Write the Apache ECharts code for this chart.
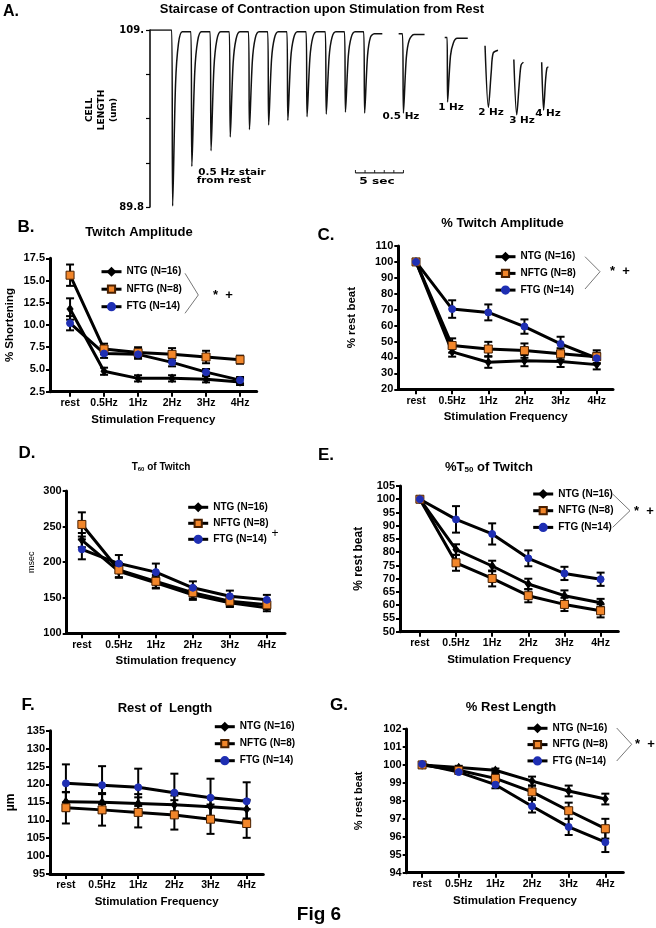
<!DOCTYPE html>
<html><head><meta charset="utf-8">
<script src="https://cdn.jsdelivr.net/npm/echarts@6/dist/echarts.min.js"></script>
<style>html,body{margin:0;padding:0;background:#fff}#c{width:656px;height:928px}</style>
</head><body><div id="c"></div>
<script>
// ---------- DATA ----------
const categories = ['rest', '0.5Hz', '1Hz', '2Hz', '3Hz', '4Hz'];
const groupNames = ['NTG (N=16)', 'NFTG (N=8)', 'FTG (N=14)'];

// Panel A: cell length trace [time (s), length (um)]
const stairTrace = [
  [0.0,109.0],[2.26,109.0],[2.36,89.9],[2.66,103.1],[2.96,107.5],[3.36,108.8],[4.26,108.8],
  [4.36,94.2],[4.66,104.4],[4.96,107.8],[5.36,108.8],[6.26,108.8],
  [6.36,95.9],[6.66,104.9],[6.96,107.9],[7.36,108.8],[8.26,108.8],
  [8.36,97.4],[8.66,105.4],[8.96,108.0],[9.36,108.8],[10.26,108.8],
  [10.36,98.2],[10.66,105.6],[10.96,108.1],[11.36,108.8],[12.26,108.8],
  [12.36,98.7],[12.66,105.8],[12.96,108.1],[13.36,108.8],[14.26,108.8],
  [14.36,99.2],[14.66,105.9],[14.96,108.1],[15.36,108.8],[16.26,108.8],
  [16.36,99.6],[16.66,106.0],[16.96,108.2],[17.36,108.8],[18.26,108.8],
  [18.36,99.9],[18.66,106.1],[18.96,108.2],[19.36,108.8],[20.26,108.8],
  [20.36,100.1],[20.66,106.2],[20.96,108.2],[21.36,108.8],[22.26,108.8],
  [22.36,100.0],[22.66,106.2],[22.96,108.2],[23.36,108.6],[24.2,108.6]
];
const trace05Hz = [[25.9,108.6],[26.3,108.6],[26.4,100.0],[26.7,106.0],[27.0,107.9],[27.5,108.5],[28.6,108.5]];
const trace1Hz = [[30.7,108.2],[30.95,108.2],[31.0,101.2],[31.3,106.2],[31.6,107.6],[32.0,108.1],[33.1,108.1]];
const trace2Hz = [[34.9,107.3],[35.25,100.6],[35.55,104.5],[35.75,106.5],[36.25,106.8]];
const trace3Hz = [[37.9,105.8],[38.2,99.8],[38.45,103.0],[38.65,105.2],[38.9,105.5]];
const trace4Hz = [[40.8,105.5],[41.0,100.3],[41.2,103.5],[41.35,104.9],[41.5,105.0]];
const lengthTicks = [89.8, 94.6, 99.4, 104.2, 109];
const scaleBarStart = 21.4, scaleBarSeconds = 5, scaleBarLevel = 93.5;

// Panel B: Twitch amplitude (% shortening)
const ampNTG = [11.8, 4.8, 4.0, 4.0, 3.9, 3.6];
const ampNTGErr = [1.2, 0.4, 0.35, 0.35, 0.35, 0.35];
const ampNFTG = [15.6, 7.3, 6.9, 6.7, 6.4, 6.1];
const ampNFTGErr = [1.2, 0.6, 0.6, 0.7, 0.7, 0.45];
const ampFTG = [10.2, 6.8, 6.7, 5.8, 4.7, 3.8];
const ampFTGErr = [0.8, 0.5, 0.5, 0.45, 0.35, 0.35];

// Panel C: % twitch amplitude (% rest beat)
const pctNTG = [100, 43.5, 37, 38, 37.5, 35.5];
const pctNTGErr = [0, 3, 3.5, 3.5, 3.5, 3];
const pctNFTG = [100, 47.5, 45.3, 44.3, 42.3, 40.5];
const pctNFTGErr = [0, 4.5, 4.5, 4.5, 3.5, 4];
const pctFTG = [100, 70.4, 68.3, 59.4, 48.5, 39.5];
const pctFTGErr = [0, 5.5, 5, 4.5, 4.5, 3.5];

// Panel D: T60 of twitch (msec)
const t60NTG = [231, 187, 171, 154, 143, 136];
const t60NTGErr = [10, 9, 8, 7, 6, 5];
const t60NFTG = [253, 189, 173, 157, 145, 140];
const t60NFTGErr = [17, 10, 9, 8, 7, 6];
const t60FTG = [218, 198, 186, 164, 152, 147];
const t60FTGErr = [14, 12, 12, 9, 8, 7];

// Panel E: %T50 of twitch (% rest beat)
const t50NTG = [100, 81, 74.8, 68, 63.6, 60.9];
const t50NTGErr = [0, 2, 2, 2, 2, 1.5];
const t50NFTG = [100, 76, 70.1, 63.6, 60.3, 57.9];
const t50NFTGErr = [0, 3, 3, 2.5, 2.5, 2.5];
const t50FTG = [100, 92.4, 86.9, 77.7, 72.0, 69.8];
const t50FTGErr = [0, 5, 4, 3, 2.5, 2.5];

// Panel F: rest length (um)
const lenNTG = [115.2, 115.0, 114.7, 114.3, 113.8, 113.1];
const lenNTGErr = [2.6, 2.6, 2.6, 2.6, 2.6, 2.6];
const lenNFTG = [113.5, 112.9, 112.2, 111.5, 110.3, 109.1];
const lenNFTGErr = [4.4, 4.4, 4.2, 4.1, 4.1, 4.0];
const lenFTG = [120.3, 119.8, 119.2, 117.7, 116.3, 115.3];
const lenFTGErr = [5.3, 5.3, 5.2, 5.3, 5.3, 5.3];

// Panel G: % rest length (% rest beat)
const rlNTG = [100, 99.85, 99.7, 99.1, 98.55, 98.1];
const rlNTGErr = [0, 0.1, 0.1, 0.25, 0.3, 0.3];
const rlNFTG = [100, 99.7, 99.25, 98.5, 97.45, 96.45];
const rlNFTGErr = [0, 0.1, 0.25, 0.35, 0.45, 0.55];
const rlFTG = [100.05, 99.6, 98.9, 97.7, 96.55, 95.7];
const rlFTGErr = [0, 0.1, 0.2, 0.35, 0.45, 0.55];

// ---------- STYLE / LAYOUT ----------
const FONT = "'Liberation Sans', Arial, Helvetica, sans-serif";
const NARROW = "'Liberation Sans Narrow', 'Arial Narrow', 'Liberation Sans', Arial, sans-serif";
const WIDE = "'DejaVu Sans', Verdana, sans-serif";
const markerStyles = [
  {symbol: 'diamond', size: [6, 8], color: '#000000', border: '#000000'},
  {symbol: 'rect', size: 8, color: '#f2862a', border: '#4a2000'},
  {symbol: 'circle', size: 7, color: '#1f2fb3', border: '#1f2fb3'}
];

const panels = [
  {grid: {left: 50, top: 258.3, width: 206.7, height: 133.4}, x: [-0.59, 5.49], y: [2.5, 17.5, 2.5],
   fmt: v => v.toFixed(1), yName: '% Shortening', yGap: 34, yNameSize: 11.5, yNameWeight: 'bold',
   xName: 'Stimulation Frequency', vals: [ampNTG, ampNFTG, ampFTG], errs: [ampNTGErr, ampNFTGErr, ampFTGErr],
   legend: {left: 100, top: 265.7, gap: 5.5}},
  {grid: {left: 398.3, top: 246, width: 214.7, height: 143.3}, x: [-0.49, 5.45], y: [20, 110, 10],
   fmt: v => String(v), yName: '% rest beat', yGap: 40, yNameSize: 11.5, yNameWeight: 'bold',
   xName: 'Stimulation Frequency', vals: [pctNTG, pctNFTG, pctFTG], errs: [pctNTGErr, pctNFTGErr, pctFTGErr],
   legend: {left: 494, top: 250.7, gap: 4.7}},
  {grid: {left: 66.7, top: 491, width: 218.3, height: 142.3}, x: [-0.41, 5.49], y: [100, 300, 50],
   fmt: v => String(v), yName: 'msec', yGap: 31, yNameSize: 9, yNameWeight: 'normal',
   xName: 'Stimulation frequency', vals: [t60NTG, t60NFTG, t60FTG], errs: [t60NTGErr, t60NFTGErr, t60FTGErr],
   legend: {left: 186.7, top: 501.3, gap: 4}},
  {grid: {left: 400, top: 486, width: 218.3, height: 145.7}, x: [-0.55, 5.49], y: [50, 105, 5],
   fmt: v => String(v), yName: '% rest beat', yGap: 35, yNameSize: 12, yNameWeight: 'bold',
   xName: 'Stimulation Frequency', vals: [t50NTG, t50NFTG, t50FTG], errs: [t50NTGErr, t50NFTGErr, t50FTGErr],
   legend: {left: 531.7, top: 488, gap: 4.7}},
  {grid: {left: 50, top: 730.7, width: 213.3, height: 143.3}, x: [-0.44, 5.46], y: [95, 135, 5],
   fmt: v => String(v), yName: 'µm', yGap: 33, yNameSize: 12, yNameWeight: 'bold',
   xName: 'Stimulation Frequency', vals: [lenNTG, lenNFTG, lenFTG], errs: [lenNTGErr, lenNFTGErr, lenFTGErr],
   legend: {left: 213.3, top: 720.7, gap: 5}},
  {grid: {left: 406.7, top: 729, width: 216.6, height: 143.7}, x: [-0.42, 5.49], y: [94, 102, 1],
   fmt: v => String(v), yName: '% rest beat', yGap: 42, yNameSize: 11, yNameWeight: 'bold',
   xName: 'Stimulation Frequency', vals: [rlNTG, rlNFTG, rlFTG], errs: [rlNTGErr, rlNFTGErr, rlFTGErr],
   legend: {left: 526, top: 722.3, gap: 4.3}}
];

function errRender(params, api) {
  const x = api.value(0), v = api.value(1), e = api.value(2);
  if (!e) return {type: 'group', children: []};
  const p1 = api.coord([x, v + e]), p2 = api.coord([x, v - e]);
  const hw = 4, st = {stroke: '#000', lineWidth: 2};
  return {type: 'group', children: [
    {type: 'line', shape: {x1: p1[0], y1: p1[1], x2: p2[0], y2: p2[1]}, style: st},
    {type: 'line', shape: {x1: p1[0] - hw, y1: p1[1], x2: p1[0] + hw, y2: p1[1]}, style: st},
    {type: 'line', shape: {x1: p2[0] - hw, y1: p2[1], x2: p2[0] + hw, y2: p2[1]}, style: st}
  ]};
}

const grids = [], xAxes = [], yAxes = [], series = [], legends = [];

// Panel A grid (index 0)
grids.push({left: 150, top: 30, width: 43 * 9.6, height: 177});
xAxes.push({type: 'value', gridIndex: 0, min: 0, max: 43, show: false});
yAxes.push({type: 'value', gridIndex: 0, min: 89.8, max: 109,
  axisLine: {show: true, onZero: false, lineStyle: {color: '#000', width: 1.5}},
  axisTick: {show: true, length: 4, customValues: lengthTicks, lineStyle: {color: '#000', width: 1.2}},
  axisLabel: {show: true, customValues: [89.8, 109], margin: 6, color: '#000', fontFamily: WIDE, fontWeight: 'bold', fontSize: 10,
    formatter: v => (Math.abs(v - 109) < 0.01 ? '109.' : '89.8')},
  splitLine: {show: false}});
[stairTrace, trace05Hz, trace1Hz, trace2Hz, trace3Hz, trace4Hz].forEach(tr => {
  series.push({type: 'line', xAxisIndex: 0, yAxisIndex: 0, data: tr, showSymbol: false, symbol: 'none',
    smooth: 0.3, lineStyle: {color: '#111', width: 1.5}, silent: true, animation: false});
});
// 5 sec scale bar
const barPts = [];
for (let s = 0; s <= scaleBarSeconds; s++) barPts.push([scaleBarStart + s, scaleBarLevel]);
series.push({type: 'line', xAxisIndex: 0, yAxisIndex: 0, data: barPts, symbol: 'rect', symbolSize: [1, 3],
  symbolOffset: [0, -1.5], itemStyle: {color: '#222'}, lineStyle: {color: '#222', width: 1.2}, animation: false, silent: true});

panels.forEach((p, k) => {
  const gi = k + 1;
  grids.push(p.grid);
  xAxes.push({type: 'value', gridIndex: gi, min: p.x[0], max: p.x[1],
    name: p.xName, nameLocation: 'middle', nameGap: 22,
    nameTextStyle: {fontFamily: FONT, fontWeight: 'bold', fontSize: 11.5, color: '#000'},
    axisLine: {show: true, onZero: false, lineStyle: {color: '#000', width: 3}},
    axisTick: {show: true, length: 5, customValues: [0, 1, 2, 3, 4, 5], lineStyle: {color: '#000', width: 2}},
    axisLabel: {show: true, customValues: [0, 1, 2, 3, 4, 5], formatter: v => categories[Math.round(v)],
      margin: 6, color: '#000', fontFamily: FONT, fontWeight: 'bold', fontSize: 10.5},
    splitLine: {show: false}});
  yAxes.push({type: 'value', gridIndex: gi, min: p.y[0], max: p.y[1], interval: p.y[2],
    name: p.yName, nameLocation: 'middle', nameGap: p.yGap,
    nameTextStyle: {fontFamily: FONT, fontWeight: p.yNameWeight, fontSize: p.yNameSize, color: '#000'},
    axisLine: {show: true, onZero: false, lineStyle: {color: '#000', width: 3}},
    axisTick: {show: true, length: 4, lineStyle: {color: '#000', width: 2}},
    axisLabel: {show: true, margin: 5, color: '#000', fontFamily: FONT, fontWeight: 'bold', fontSize: 11, formatter: p.fmt},
    splitLine: {show: false}});
  p.vals.forEach((vals, j) => {
    series.push({type: 'custom', name: 'err' + j, xAxisIndex: gi, yAxisIndex: gi, renderItem: errRender,
      data: vals.map((v, i) => [i, v, p.errs[j][i]]), encode: {x: 0, y: 1}, z: 2, silent: true, animation: false});
  });
  p.vals.forEach((vals, j) => {
    const ms = markerStyles[j];
    series.push({type: 'line', name: groupNames[j], xAxisIndex: gi, yAxisIndex: gi,
      data: vals.map((v, i) => [i, v]), symbol: ms.symbol, symbolSize: ms.size, showSymbol: true,
      lineStyle: {color: '#000', width: 3}, itemStyle: {color: ms.color, borderColor: ms.border, borderWidth: 1},
      z: 3, silent: true, animation: false});
  });
  legends.push({orient: 'vertical', left: p.legend.left, top: p.legend.top, padding: 0, itemGap: p.legend.gap,
    itemWidth: 20, itemHeight: 9, selectedMode: false, data: groupNames,
    lineStyle: {width: 3}, textStyle: {fontFamily: FONT, fontWeight: 'bold', fontSize: 10, color: '#000', lineHeight: 12}});
});

function txt(x, y, s, size, weight, family, extra) {
  return Object.assign({type: 'text', x: x, y: y, silent: true,
    style: {text: s, fontSize: size, fontWeight: weight, fontFamily: family, fill: '#000', align: 'center', verticalAlign: 'middle'}}, extra || {});
}
function bracket(x0, y0, x1, y1, y2) {
  return {type: 'polyline', silent: true, shape: {points: [[x0, y0], [x1, y1], [x0, y2]]}, style: {stroke: '#777', lineWidth: 1, fill: null}};
}
const graphics = [
  txt(11, 12, 'A.', 16, 'bold', FONT),
  txt(322, 9, 'Staircase of Contraction upon Stimulation from Rest', 13, 'bold', NARROW),
  {type: 'text', x: 102, y: 110, rotation: Math.PI / 2, silent: true,
    style: {text: 'CELL\nLENGTH\n(um)', fontSize: 9, fontWeight: 'bold', fontFamily: WIDE, fill: '#000', align: 'center', verticalAlign: 'middle', lineHeight: 12}},
  txt(232, 173, '0.5 Hz stair', 8, 'bold', WIDE, {scaleX: 1.3}),
  txt(224, 181, 'from rest', 8, 'bold', WIDE, {scaleX: 1.3}),
  txt(377, 182, '5 sec', 9, 'bold', WIDE, {scaleX: 1.35}),
  txt(401, 117, '0.5 Hz', 8, 'bold', WIDE, {scaleX: 1.3}),
  txt(451, 108, '1 Hz', 8, 'bold', WIDE, {scaleX: 1.3}),
  txt(491, 113, '2 Hz', 8, 'bold', WIDE, {scaleX: 1.3}),
  txt(522, 121, '3 Hz', 8, 'bold', WIDE, {scaleX: 1.3}),
  txt(548, 114, '4 Hz', 8, 'bold', WIDE, {scaleX: 1.3}),
  // panel letters
  txt(26, 227.5, 'B.', 17, 'bold', FONT),
  txt(326, 235, 'C.', 17, 'bold', FONT),
  txt(27, 453, 'D.', 17, 'bold', FONT),
  txt(326, 455, 'E.', 17, 'bold', FONT),
  txt(28, 705, 'F.', 17, 'bold', FONT),
  txt(339, 705, 'G.', 17, 'bold', FONT),
  // titles
  txt(139, 232, 'Twitch Amplitude', 13, 'bold', FONT),
  txt(502.5, 223, '% Twitch Amplitude', 13, 'bold', FONT),
  {type: 'text', x: 161, y: 467, silent: true, style: {text: 'T{s|60} of Twitch', fontSize: 10, fontWeight: 'bold', fontFamily: FONT, fill: '#000', align: 'center', verticalAlign: 'middle',
    rich: {s: {fontSize: 6, fontWeight: 'bold', fontFamily: FONT, verticalAlign: 'bottom', padding: [5, 0, 0, 0]}}}},
  {type: 'text', x: 489, y: 467, silent: true, style: {text: '%T{s|50} of Twitch', fontSize: 13, fontWeight: 'bold', fontFamily: FONT, fill: '#000', align: 'center', verticalAlign: 'middle',
    rich: {s: {fontSize: 8, fontWeight: 'bold', fontFamily: FONT, verticalAlign: 'bottom', padding: [6, 0, 0, 0]}}}},
  txt(165, 708, 'Rest of  Length', 13, 'bold', FONT),
  txt(511, 707, '% Rest Length', 13, 'bold', FONT),
  // significance brackets
  bracket(185, 273.3, 198.3, 295, 313.3), txt(223, 295, '*  +', 13, 'bold', FONT),
  bracket(585, 256.7, 600, 271.7, 289), txt(620, 271, '*  +', 13, 'bold', FONT),
  bracket(612.7, 494, 630, 510.7, 527.3), txt(644, 511, '*  +', 13, 'bold', FONT),
  bracket(616.7, 728, 631.7, 744.3, 761), txt(645, 744, '*  +', 13, 'bold', FONT),
  txt(275, 534, '+', 12, 'normal', FONT),
  txt(319, 915, 'Fig 6', 19, 'bold', FONT)
];

const chart = echarts.init(document.getElementById('c'), null, {renderer: 'canvas'});
chart.setOption({
  backgroundColor: '#ffffff',
  animation: false,
  grid: grids, xAxis: xAxes, yAxis: yAxes, series: series, legend: legends, graphic: graphics
});
</script></body></html>
